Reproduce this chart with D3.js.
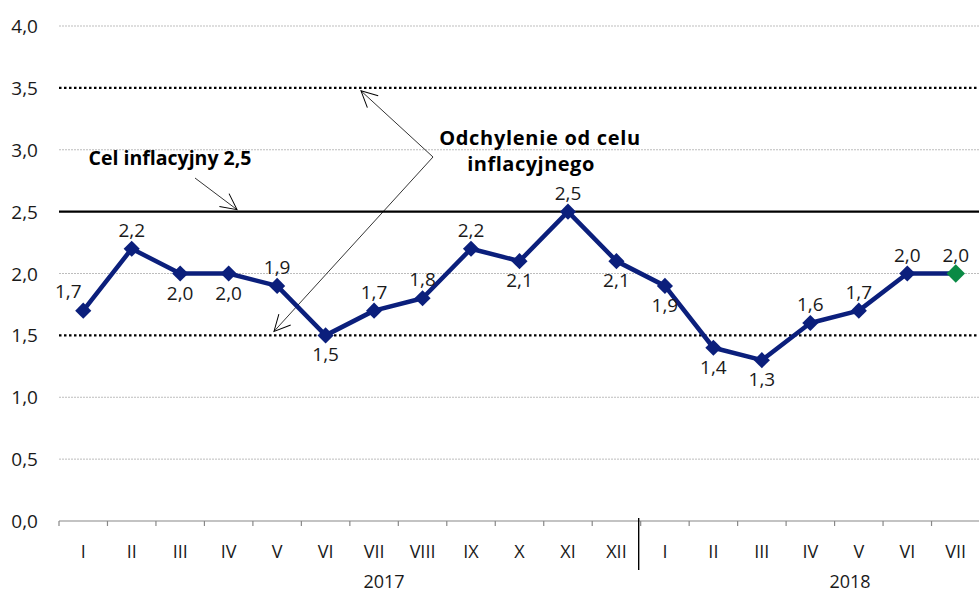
<!DOCTYPE html>
<html><head><meta charset="utf-8">
<script src="https://cdn.jsdelivr.net/npm/d3@7"></script>
<style>
body{margin:0;background:#fff}
text{font-family:"Open Sans","Noto Sans",sans-serif}
</style></head><body>
<svg id="c" width="979" height="594"></svg>
<script>
const months = ["I","II","III","IV","V","VI","VII","VIII","IX","X","XI","XII","I","II","III","IV","V","VI","VII"];
const values = [1.7,2.2,2.0,2.0,1.9,1.5,1.7,1.8,2.2,2.1,2.5,2.1,1.9,1.4,1.3,1.6,1.7,2.0,2.0];
const labelPos = ["al","a","b","b","a","b","a","a","a","b","a","b","b","b","b","a","a","a","a"];
const years = ["2017","2018"];
const yTicks = [0,0.5,1.0,1.5,2.0,2.5,3.0,3.5,4.0];
const target = 2.5;
const band = [1.5,3.5];
const fmt = v => d3.format(".1f")(v).replace(".", ",");

const svg = d3.select("#c");
const x = d3.scaleBand().domain(d3.range(months.length)).range([59,980]);
const y = d3.scaleLinear().domain([0,4]).range([521,26]);

// gridlines
yTicks.filter(t=>t>0 && t!==target && !band.includes(t)).forEach(t=>{
  svg.append("line").attr("x1",59).attr("x2",979).attr("y1",y(t)).attr("y2",y(t))
    .attr("stroke","#bdbdbd").attr("stroke-width",1).attr("stroke-dasharray","2,1");
});
band.forEach(t=>{
  svg.append("line").attr("x1",59).attr("x2",979).attr("y1",y(t)).attr("y2",y(t))
    .attr("stroke","#000").attr("stroke-width",2.2).attr("stroke-dasharray","2.5,2.5");
});
svg.append("line").attr("x1",59).attr("x2",979).attr("y1",y(target)).attr("y2",y(target))
  .attr("stroke","#000").attr("stroke-width",2.2);

// y labels
svg.selectAll(".yl").data(yTicks).join("text")
  .attr("x",38).attr("y",d=>y(d)+7).attr("text-anchor","end")
  .attr("font-size",19).attr("fill","#1a1a1a").text(fmt);

// x axis
svg.append("line").attr("x1",59).attr("x2",980).attr("y1",521).attr("y2",521).attr("stroke","#888").attr("stroke-width",1.2);
d3.range(months.length+1).forEach(i=>{
  const xx = i<months.length ? x(i) : 980;
  svg.append("line").attr("x1",xx).attr("x2",xx).attr("y1",521).attr("y2",526).attr("stroke","#888").attr("stroke-width",1.2);
});
svg.selectAll(".xl").data(months).join("text")
  .attr("x",(d,i)=>x(i)+x.bandwidth()/2).attr("y",558).attr("text-anchor","middle")
  .attr("font-size",18).attr("fill","#1a1a1a").text(d=>d);
// year separator
svg.append("line").attr("x1",x(12)-2).attr("x2",x(12)-2).attr("y1",518).attr("y2",570).attr("stroke","#000").attr("stroke-width",1.4);
svg.append("text").attr("x",384).attr("y",588).attr("text-anchor","middle").attr("font-size",18).attr("fill","#1a1a1a").text(years[0]);
svg.append("text").attr("x",850).attr("y",588).attr("text-anchor","middle").attr("font-size",18).attr("fill","#1a1a1a").text(years[1]);

// annotations
const defs = svg.append("defs");
defs.append("marker").attr("id","ah").attr("viewBox","0 0 20 20").attr("refX",18).attr("refY",10)
  .attr("markerWidth",20).attr("markerHeight",20).attr("markerUnits","userSpaceOnUse").attr("orient","auto")
  .append("path").attr("d","M2,2 L18,10 L2,18").attr("fill","none").attr("stroke","#000").attr("stroke-width",1);
svg.append("text").attr("x",170).attr("y",165).attr("text-anchor","middle").attr("font-size",19.5).attr("font-weight","bold").text("Cel inflacyjny 2,5");
svg.append("line").attr("x1",195).attr("y1",178).attr("x2",237).attr("y2",y(target)-2).attr("stroke","#000").attr("stroke-width",0.8).attr("marker-end","url(#ah)");
svg.append("text").attr("x",540).attr("y",145).attr("text-anchor","middle").attr("font-size",20).attr("letter-spacing",0.7).attr("font-weight","bold").text("Odchylenie od celu");
svg.append("text").attr("x",531).attr("y",171).attr("text-anchor","middle").attr("font-size",20).attr("letter-spacing",0.5).attr("font-weight","bold").text("inflacyjnego");
svg.append("line").attr("x1",433).attr("y1",157).attr("x2",361).attr("y2",y(band[1])+3).attr("stroke","#000").attr("stroke-width",0.8).attr("marker-end","url(#ah)");
svg.append("line").attr("x1",433).attr("y1",157).attr("x2",274).attr("y2",y(band[0])-4).attr("stroke","#000").attr("stroke-width",0.8).attr("marker-end","url(#ah)");

// line
const cx = i => x(i)+x.bandwidth()/2;
svg.append("path").datum(values).attr("fill","none").attr("stroke","#0b1f7c").attr("stroke-width",4.5)
  .attr("stroke-linejoin","round")
  .attr("d",d3.line().x((d,i)=>cx(i)).y(d=>y(d)));
svg.selectAll(".m").data(values).join("path")
  .attr("transform",(d,i)=>`translate(${cx(i)},${y(d)}) rotate(45)`)
  .attr("d",(d,i)=>d3.symbol().type(d3.symbolSquare).size(i===values.length-1?170:130)())
  .attr("fill",(d,i)=>i===values.length-1?"#0a8a45":"#0b1f7c");

// labels
svg.selectAll(".vl").data(values).join("text")
  .attr("x",(d,i)=>labelPos[i]==="al"?cx(i)-15:cx(i))
  .attr("y",(d,i)=>labelPos[i]==="b"?y(d)+26:(labelPos[i]==="al"?y(d)-13:y(d)-12))
  .attr("text-anchor","middle").attr("font-size",19).attr("fill","#1a1a1a").text(fmt);
</script>
</body></html>
